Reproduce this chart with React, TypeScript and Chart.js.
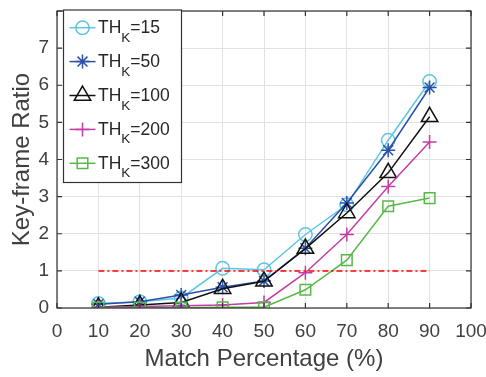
import React, { useEffect, useRef } from "react";
import { Chart, registerables } from "chart.js";
import { drawPoint } from "chart.js/helpers";

Chart.register(...registerables);

const percentages = [10, 20, 30, 40, 50, 60, 70, 80, 90];
const th15 = [0.12, 0.17, 0.27, 1.07, 1.03, 1.98, 2.78, 4.52, 6.1];
const th50 = [0.1, 0.17, 0.35, 0.56, 0.73, 1.61, 2.83, 4.25, 5.94];
const th100 = [0.02, 0.08, 0.15, 0.52, 0.72, 1.6, 2.56, 3.64, 5.15];
const th200 = [0.02, 0.04, 0.06, 0.08, 0.15, 0.95, 1.98, 3.27, 4.47];
const th300 = [0.01, 0.01, 0.01, 0.02, 0.02, 0.49, 1.29, 2.74, 2.96];
const refLineX = [10, 90];
const refLineY = [1, 1];
const seriesLabels = ["15", "50", "100", "200", "300"];
const xTicks = [0, 10, 20, 30, 40, 50, 60, 70, 80, 90, 100];
const yTicks = [0, 1, 2, 3, 4, 5, 6, 7, 8];

const COLORS = ["#5cc6e3", "#2a50a8", "#111111", "#c23ea3", "#56b947"];
const STYLES = ["circle", "star", "triangle", "cross", "rect"];
const RADII = [6.7, 7, 9.5, 7, 7.5];
const FONT = "'Liberation Sans', Arial, sans-serif";

const mk = (vals: number[]) => percentages.map((x, i) => ({ x, y: vals[i] }));

const boxPlugin = {
  id: "boxAndLegend",
  afterDraw(chart: any) {
    const { ctx, chartArea } = chart;
    const { left, right, top, bottom } = chartArea;
    const xs = chart.scales.x;
    const ys = chart.scales.y;
    ctx.save();
    ctx.strokeStyle = "#333333";
    ctx.lineWidth = 1.2;
    ctx.strokeRect(left, top, right - left, bottom - top);
    const tl = 5;
    ctx.beginPath();
    xTicks.forEach((v) => {
      const px = xs.getPixelForValue(v);
      ctx.moveTo(px, bottom);
      ctx.lineTo(px, bottom - tl);
      ctx.moveTo(px, top);
      ctx.lineTo(px, top + tl);
    });
    yTicks.forEach((v) => {
      const py = ys.getPixelForValue(v);
      ctx.moveTo(left, py);
      ctx.lineTo(left + tl, py);
      ctx.moveTo(right, py);
      ctx.lineTo(right - tl, py);
    });
    ctx.stroke();

    // legend
    const bx = 63.5, by = 10, bw = 118, bh = 172.5;
    ctx.fillStyle = "#ffffff";
    ctx.fillRect(bx, by, bw, bh);
    ctx.strokeStyle = "#333333";
    ctx.lineWidth = 1.2;
    ctx.strokeRect(bx, by, bw, bh);
    const y0 = 27.7, dy = 33.9;
    seriesLabels.forEach((lab, i) => {
      const yc = y0 + dy * i;
      ctx.strokeStyle = COLORS[i];
      ctx.lineWidth = 1.5;
      ctx.beginPath();
      ctx.moveTo(69.5, yc);
      ctx.lineTo(95.5, yc);
      ctx.stroke();
      ctx.fillStyle = "rgba(255,255,255,0)";
      ctx.strokeStyle = COLORS[i];
      drawPoint(ctx, { pointStyle: STYLES[i], radius: RADII[i], rotation: 0, borderWidth: 1.5 } as any, 82.5, yc);
      ctx.fillStyle = "#262626";
      ctx.textAlign = "left";
      ctx.textBaseline = "alphabetic";
      ctx.font = `17.5px ${FONT}`;
      let x = 98;
      ctx.fillText("TH", x, yc + 5.6);
      x += ctx.measureText("TH").width;
      ctx.font = `13.5px ${FONT}`;
      ctx.fillText("K", x, yc + 14);
      x += ctx.measureText("K").width;
      ctx.font = `17.5px ${FONT}`;
      ctx.fillText("=" + lab, x, yc + 5.6);
    });
    ctx.restore();
  },
};

export default function App() {
  const ref = useRef<HTMLCanvasElement>(null);
  useEffect(() => {
    document.body.style.margin = "0";
    const seriesData = [th15, th50, th100, th200, th300];
    const datasets: any[] = seriesData.map((vals, i) => ({
      label: "TH" + seriesLabels[i],
      data: mk(vals),
      borderColor: COLORS[i],
      backgroundColor: "rgba(255,255,255,0)",
      pointBackgroundColor: "rgba(255,255,255,0)",
      pointBorderColor: COLORS[i],
      pointStyle: STYLES[i],
      pointRadius: RADII[i],
      pointBorderWidth: 1.5,
      borderWidth: 1.5,
      tension: 0,
      order: 5 - i,
    }));
    datasets.push({
      label: "ref",
      data: refLineX.map((x, i) => ({ x, y: refLineY[i] })),
      borderColor: "#ff0000",
      borderWidth: 1.5,
      borderDash: [6, 3, 2, 3],
      pointRadius: 0,
      order: 0,
    });
    const chart = new Chart(ref.current!, {
      type: "line",
      data: { datasets },
      options: {
        responsive: false,
        animation: false,
        devicePixelRatio: 1,
        layout: { padding: { top: 5, right: 15, left: 0, bottom: 0 } },
        plugins: { legend: { display: false }, tooltip: { enabled: false } },
        scales: {
          x: {
            type: "linear",
            min: 0,
            max: 100,
            afterFit: (s: any) => {
              s.height = 69;
              s.paddingLeft = 0;
              s.paddingRight = 0;
            },
            afterBuildTicks: (s: any) => {
              s.ticks = xTicks.map((v) => ({ value: v }));
            },
            ticks: {
              autoSkip: false,
              maxRotation: 0,
              padding: 12,
              color: "#404040",
              font: { family: FONT, size: 19 },
            },
            grid: { color: "#e2e2e2", lineWidth: 1, drawTicks: false },
            border: { display: false },
            title: {
              display: true,
              text: "Match Percentage (%)",
              color: "#404040",
              font: { family: FONT, size: 24 },
              padding: { top: 0, bottom: 3 },
            },
          },
          y: {
            type: "linear",
            min: 0,
            max: 8,
            afterFit: (s: any) => {
              s.width = 57;
              s.paddingTop = 0;
              s.paddingBottom = 0;
            },
            afterBuildTicks: (s: any) => {
              s.ticks = yTicks.map((v) => ({ value: v }));
            },
            ticks: {
              autoSkip: false,
              padding: 8,
              color: "#404040",
              font: { family: FONT, size: 19 },
              callback: (v: any) => (v === 8 ? "" : String(v)),
            },
            grid: { color: "#e2e2e2", lineWidth: 1, drawTicks: false },
            border: { display: false },
            title: {
              display: true,
              text: "Key-frame Ratio",
              color: "#404040",
              font: { family: FONT, size: 24 },
              padding: { top: 8, bottom: 0 },
            },
          },
        },
      },
      plugins: [boxPlugin],
    });
    return () => chart.destroy();
  }, []);
  return (
    <div style={{ position: "absolute", left: 0, top: 0, width: 486, height: 377 }}>
      <canvas ref={ref} width={486} height={377} style={{ width: 486, height: 377 }} />
    </div>
  );
}
